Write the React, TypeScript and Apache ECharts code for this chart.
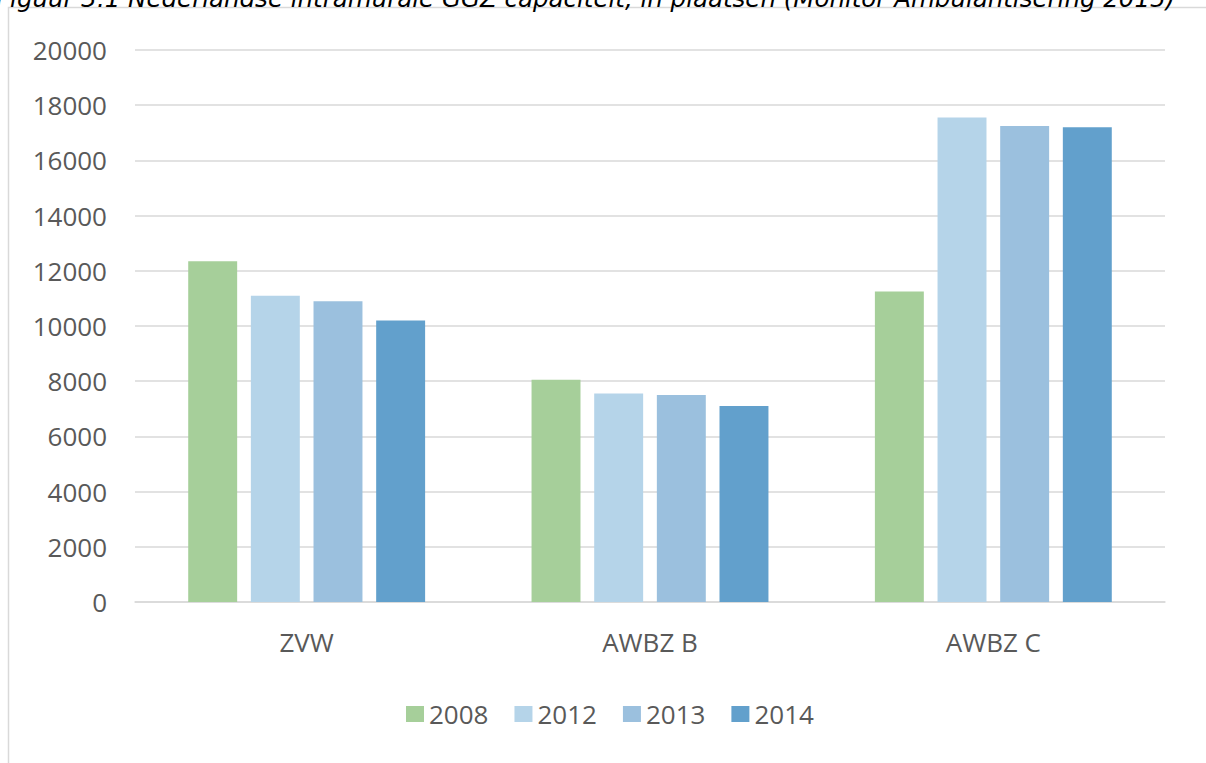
import React, { useEffect, useRef } from "react";
import * as echarts from "echarts";

const categories = ["ZVW", "AWBZ B", "AWBZ C"];
const years = ["2008", "2012", "2013", "2014"];
const values2008 = [12350, 8050, 11250];
const values2012 = [11100, 7550, 17550];
const values2013 = [10900, 7500, 17250];
const values2014 = [10200, 7100, 17200];
const seriesValues = [values2008, values2012, values2013, values2014];
const colors = ["#a6cf9a", "#b5d4e9", "#9bc0de", "#62a0cc"];
const caption =
  "Figuur 3.1 Nederlandse intramurale GGZ capaciteit, in plaatsen (Monitor Ambulantisering 2015)";

export default function App() {
  const ref = useRef<HTMLDivElement>(null);
  useEffect(() => {
    if (!ref.current) return;
    const chart = echarts.init(ref.current, null, { renderer: "svg" });
    const font = "'Open Sans', sans-serif";
    chart.setOption({
      animation: false,
      backgroundColor: "#ffffff",
      color: colors,
      graphic: [
        {
          type: "rect",
          shape: { x: 8.5, y: 7.5, width: 1300, height: 900 },
          style: { fill: "none", stroke: "#d9d9d9", lineWidth: 1.5 },
          silent: true,
        },
        {
          type: "text",
          x: -4,
          y: 11,
          style: {
            text: caption,
            font: "italic 24.5px 'DejaVu Sans'",
            fill: "#000000",
            textVerticalAlign: "bottom",
          },
          silent: true,
        },
      ],
      grid: { left: 135, right: 41, top: 50, bottom: 161, containLabel: false },
      legend: {
        data: years,
        left: 406,
        top: 701,
        padding: 0,
        itemWidth: 18,
        itemHeight: 16,
        itemGap: 26,
        icon: "rect",
        textStyle: { fontFamily: font, fontSize: 26, color: "#595959" },
      },
      xAxis: {
        type: "category",
        data: categories,
        axisTick: { show: false },
        axisLine: { lineStyle: { color: "#d9d9d9", width: 1.5 } },
        axisLabel: { fontFamily: font, fontSize: 26, color: "#595959", margin: 27 },
      },
      yAxis: {
        type: "value",
        min: 0,
        max: 20000,
        interval: 2000,
        axisLine: { show: false },
        axisTick: { show: false },
        splitLine: { lineStyle: { color: "#d9d9d9", width: 1.5 } },
        axisLabel: {
          fontFamily: font,
          fontSize: 26,
          color: "#595959",
          margin: 28,
          formatter: (v: number) => String(v),
        },
      },
      series: years.map((y, i) => ({
        name: y,
        type: "bar",
        data: seriesValues[i],
        barGap: "28%",
        barCategoryGap: "31%",
        itemStyle: { color: colors[i] },
      })),
    });
    return () => chart.dispose();
  }, []);
  return (
    <div
      ref={ref}
      style={{ position: "fixed", left: 0, top: 0, width: 1206, height: 763 }}
    />
  );
}
